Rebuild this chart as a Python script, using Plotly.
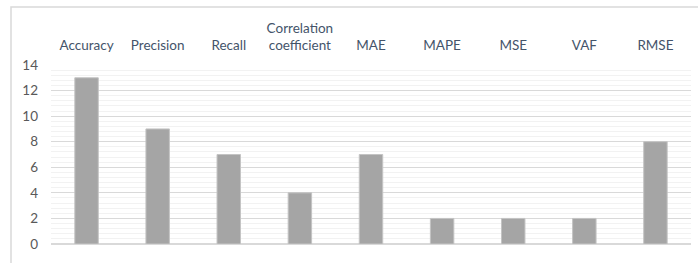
import plotly.graph_objects as go

categories = ["Accuracy", "Precision", "Recall", "Correlation<br>coefficient", "MAE", "MAPE", "MSE", "VAF", "RMSE"]
values = [13, 9, 7, 4, 7, 2, 2, 2, 8]
y_ticks = [0, 2, 4, 6, 8, 10, 12, 14]

fig = go.Figure(go.Bar(
    x=categories, y=values, width=0.33,
    marker=dict(color="#a5a5a5", line=dict(color="#c4c4c4", width=1)),
))

fig.update_layout(
    width=698, height=263,
    margin=dict(l=51, r=7, t=65, b=19),
    paper_bgcolor="white", plot_bgcolor="white",
    font=dict(family="Lato", size=13.5, color="#595959"),
    showlegend=False, bargap=0.67,
    shapes=[dict(type="rect", xref="paper", yref="paper",
                 x0=-0.0625, x1=1.3, y0=-0.5, y1=1.324,
                 line=dict(color="#d9d9d9", width=1.5), layer="below")],
)
fig.update_xaxes(side="top", showgrid=False, showline=False, ticks="",
                 tickfont=dict(color="#44546a", size=13.5), ticklabelstandoff=11)
fig.update_yaxes(range=[0, 14], tickvals=y_ticks, showgrid=True, gridcolor="#d9d9d9",
                 gridwidth=1, zeroline=True, zerolinecolor="#d9d9d9", ticks="",
                 tickfont=dict(color="#595959", size=13.5), ticklabelstandoff=12,
                 minor=dict(dtick=0.4, showgrid=True, gridcolor="#f2f2f2", gridwidth=1))

fig.write_html("out.html", config={"displayModeBar": False},
               post_script="document.body.style.margin='0';")
